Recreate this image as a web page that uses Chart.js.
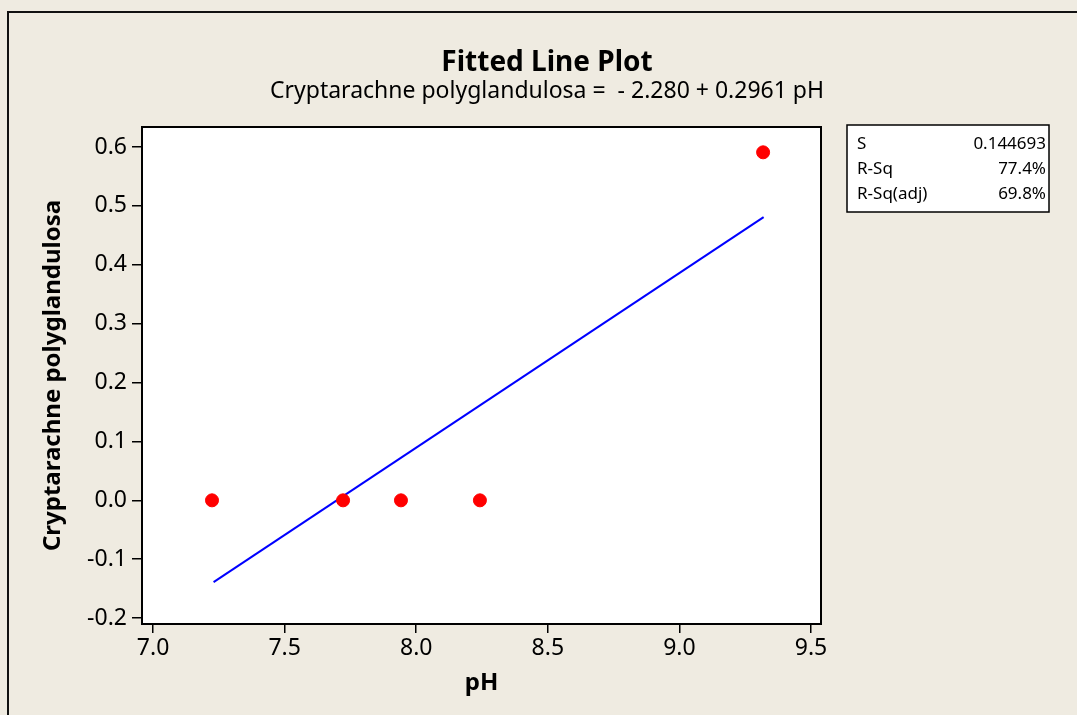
<!DOCTYPE html>
<html>
<head>
<meta charset="utf-8">
<script src="https://cdn.jsdelivr.net/npm/chart.js@4/dist/chart.umd.min.js"></script>
<style>
  html, body { margin: 0; padding: 0; background: #EFEBE1; }
  #wrap { position: relative; width: 1077px; height: 715px; }
</style>
</head>
<body>
<div id="wrap"><canvas id="grafico"></canvas></div>
<script>
// datos (pH vs Cryptarachne polyglandulosa)
const phValues = [7.224, 7.722, 7.942, 8.242, 9.318];
const cryptValues = [0.0, 0.0, 0.0, 0.0, 0.591];
// extremos de la recta ajustada
const fitX = [7.23, 9.32];
const fitY = [-0.139, 0.481];
const xTicks = [7.0, 7.5, 8.0, 8.5, 9.0, 9.5];
const yTicks = [-0.2, -0.1, 0.0, 0.1, 0.2, 0.3, 0.4, 0.5, 0.6];
const statLabels = ['S', 'R-Sq', 'R-Sq(adj)'];
const statValues = ['0.144693', '77.4%', '69.8%'];

const FONT = "'Noto Sans', 'DejaVu Sans', sans-serif";

// plugin para fondo, marco, titulos y cuadro de estadisticas
const minitabLook = {
  id: 'minitabLook',
  beforeDraw(chart) {
    const { ctx, chartArea: a, width, height } = chart;
    ctx.save();
    ctx.fillStyle = '#EFEBE1';
    ctx.fillRect(0, 0, width, height);
    ctx.fillStyle = '#FFFFFF';
    ctx.fillRect(a.left, a.top, a.right - a.left, a.bottom - a.top);
    // borde exterior (solo izquierda y arriba visibles)
    ctx.strokeStyle = '#111';
    ctx.lineWidth = 2;
    ctx.beginPath();
    ctx.moveTo(8, height);
    ctx.lineTo(8, 12);
    ctx.lineTo(width, 12);
    ctx.stroke();
    ctx.restore();
  },
  afterDraw(chart) {
    const { ctx, chartArea: a } = chart;
    ctx.save();
    ctx.strokeStyle = '#000';
    ctx.lineWidth = 2;
    ctx.strokeRect(a.left, a.top, a.right - a.left, a.bottom - a.top);

    ctx.fillStyle = '#000';
    ctx.textAlign = 'center';
    ctx.textBaseline = 'alphabetic';
    ctx.font = 'bold 28px ' + FONT;
    ctx.fillText('Fitted Line Plot', 547, 71);
    ctx.font = '23px ' + FONT;
    ctx.fillText('Cryptarachne polyglandulosa =  - 2.280 + 0.2961 pH', 547, 98);

    // cuadro S / R-Sq
    ctx.fillStyle = '#FFFFFF';
    ctx.fillRect(847, 125, 202, 87);
    ctx.strokeStyle = '#000';
    ctx.lineWidth = 1.5;
    ctx.strokeRect(847, 125, 202, 87);
    ctx.fillStyle = '#000';
    ctx.font = '17px ' + FONT;
    statLabels.forEach((lab, i) => {
      const y = 149 + i * 25;
      ctx.textAlign = 'left';
      ctx.fillText(lab, 857, y);
      ctx.textAlign = 'right';
      ctx.fillText(statValues[i], 1046, y);
    });
    ctx.restore();
  }
};

const data = {
  datasets: [
    {
      type: 'line',
      label: 'Regression',
      data: fitX.map((x, i) => ({ x: x, y: fitY[i] })),
      borderColor: '#0000FF',
      borderWidth: 2,
      pointRadius: 0,
      fill: false,
      order: 2
    },
    {
      type: 'scatter',
      label: 'Cryptarachne polyglandulosa',
      data: phValues.map((x, i) => ({ x: x, y: cryptValues[i] })),
      backgroundColor: '#FF0000',
      borderColor: '#FF0000',
      pointRadius: 6.5,
      order: 1
    }
  ]
};

const config = {
  type: 'scatter',
  data: data,
  plugins: [minitabLook],
  options: {
    responsive: true,
    maintainAspectRatio: false,
    animation: false,
    layout: { padding: { top: 127, right: 256, left: 0, bottom: 0 } },
    plugins: {
      legend: { display: false },
      tooltip: { enabled: false }
    },
    scales: {
      x: {
        type: 'linear',
        min: 6.958,
        max: 9.538,
        afterBuildTicks: (scale) => { scale.ticks = xTicks.map(v => ({ value: v })); },
        afterFit: (scale) => { scale.height = 91; },
        grid: { drawOnChartArea: false, drawTicks: true, tickLength: 9, color: '#000', lineWidth: 1.5 },
        border: { display: false },
        ticks: {
          color: '#000',
          font: { family: FONT, size: 23 },
          padding: 2,
          maxRotation: 0,
          callback: (v) => Number(v).toFixed(1)
        },
        title: {
          display: true,
          text: 'pH',
          color: '#000',
          font: { family: FONT, size: 24, weight: 'bold' },
          padding: { top: 0, bottom: 17 }
        }
      },
      y: {
        type: 'linear',
        min: -0.21,
        max: 0.634,
        afterBuildTicks: (scale) => { scale.ticks = yTicks.map(v => ({ value: v })); },
        afterFit: (scale) => { scale.width = 142; },
        grid: { drawOnChartArea: false, drawTicks: true, tickLength: 10, color: '#000', lineWidth: 1.5 },
        border: { display: false },
        ticks: {
          color: '#000',
          font: { family: FONT, size: 23 },
          padding: 5,
          callback: (v) => Number(v).toFixed(1)
        },
        title: {
          display: true,
          text: 'Cryptarachne polyglandulosa',
          color: '#000',
          font: { family: FONT, size: 24, weight: 'bold' },
          padding: { top: 39, bottom: 0 }
        }
      }
    }
  }
};

new Chart(document.getElementById('grafico'), config);
</script>
</body>
</html>
